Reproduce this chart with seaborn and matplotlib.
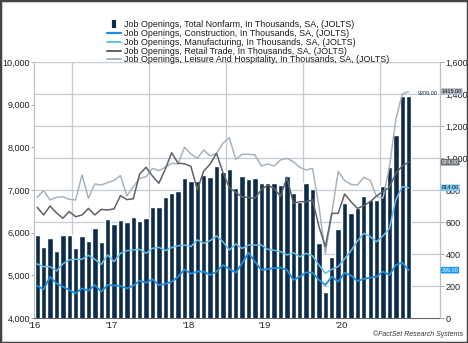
import matplotlib
matplotlib.use("Agg")
import matplotlib.pyplot as plt
import seaborn as sns
import numpy as np
from matplotlib.lines import Line2D
from matplotlib.patches import Rectangle
import matplotlib.transforms as mtransforms

sns.set_style("white")
plt.rcParams['font.family'] = ['Liberation Sans', 'DejaVu Sans']

# ---- data (monthly, thousands) ----
total = [5945, 5664, 5867, 5570, 5953, 5953, 5633, 5922, 5797, 6102, 5789, 6328, 6195, 6297,
         6258, 6375, 6281, 6352, 6594, 6594, 6828, 6922, 6985, 7273, 7211, 7211,
         7352, 7297, 7570, 7430, 7484, 7055, 7328, 7250, 7273, 7172, 7156, 7156, 7120,
         7328, 6922, 6719, 7156, 7031, 5750, 4609, 5422, 6094, 6703,
         6453, 6570, 6859, 6766, 6766, 7094, 7531, 8289, 9193, 9209]
construction = [202, 179, 258, 217, 196, 175, 154, 185, 171, 206, 165, 206, 203, 200,
                185, 202, 233, 221, 242, 206, 213, 227, 258, 304, 277, 290,
                290, 269, 290, 331, 306, 283, 342, 408, 352, 300, 306, 312, 315,
                300, 238, 258, 285, 283, 238, 206, 258, 227, 283,
                265, 231, 244, 252, 258, 290, 269, 331, 346, 299]
manufacturing = [338, 321, 321, 294, 338, 363, 367, 367, 392, 367, 335, 394, 352, 404,
                 421, 425, 429, 404, 435, 442, 421, 440, 452, 456, 446, 488,
                 467, 483, 513, 477, 425, 463, 435, 456, 456, 456, 429, 423, 415,
                 394, 408, 383, 404, 388, 331, 279, 304, 321, 370,
                 420, 481, 529, 508, 477, 513, 560, 738, 821, 814]
retail = [692, 644, 700, 658, 623, 665, 633, 644, 685, 644, 679, 675, 682, 765,
          740, 745, 900, 942, 888, 842, 930, 1033, 967, 964, 948, 802,
          918, 962, 1029, 910, 815, 785, 756, 754, 748, 802, 831, 810, 760,
          880, 717, 727, 727, 738, 571, 446, 654, 654, 775,
          727, 685, 702, 727, 763, 790, 817, 904, 950, 974]
leisure = [754, 796, 738, 754, 758, 742, 738, 894, 748, 838, 831, 846, 860, 890,
           763, 821, 873, 883, 935, 921, 942, 967, 963, 1067, 1025, 998,
           1050, 1013, 1029, 1092, 1127, 992, 1023, 1023, 1019, 950, 963, 950, 988,
           998, 977, 942, 925, 935, 696, 404, 654, 915, 860,
           835, 831, 879, 860, 758, 750, 944, 1240, 1400, 1415]
year_labels = ["'16", "'17", "'18", "'19", "'20"]
left_ticks = [4000, 5000, 6000, 7000, 8000, 9000, 10000]
right_ticks = [0, 200, 400, 600, 800, 1000, 1200, 1400, 1600]

labels = ["Job Openings, Total Nonfarm, In Thousands, SA, (JOLTS)",
          "Job Openings, Construction, In Thousands, SA, (JOLTS)",
          "Job Openings, Manufacturing, In Thousands, SA, (JOLTS)",
          "Job Openings, Retail Trade, In Thousands, SA, (JOLTS)",
          "Job Openings, Leisure And Hospitality, In Thousands, SA, (JOLTS)"]

NAVY = "#0E2C4A"
C_CONS = "#1E8CE0"
C_MANU = "#66BDF0"
C_RET = "#5C6268"
C_LEI = "#A8B3BD"
GRID = "#C6CCD2"

n = len(total)
idx = np.arange(n)

W, H = 468, 343
fig = plt.figure(figsize=(W / 100, H / 100), dpi=100)
ax = fig.add_axes([34 / W, 1 - 318 / H, (440 - 34) / W, (318 - 62) / H])

sns.barplot(x=idx, y=total, ax=ax, color=NAVY, width=0.84, saturation=1, zorder=2)
ax.set_xlim(-0.5, 62.9)
ax.set_ylim(4000, 10000)

# gridlines aligned to right axis
for v in right_ticks[1:]:
    ax.axhline(4000 + v * 6000 / 1600, color=GRID, lw=0.9, zorder=0)
for xv in [5.5, 17.5, 29.5, 41.5, 53.5]:
    ax.axvline(xv, color=GRID, lw=1.0, zorder=0)

ax.set_yticks(left_ticks)
ax.set_yticklabels([f"{v:,}" for v in left_ticks])
ax.set_xticks([-0.4, 11.6, 23.6, 35.6, 47.6])
ax.set_xticklabels(year_labels)
ax.tick_params(axis='y', labelsize=6.5, colors="#222222", length=2, width=0.6, pad=1, color="#999999")
ax.tick_params(axis='x', labelsize=6.8, colors="#222222", length=0, pad=2)
ax.set_xlabel("")
ax.set_ylabel("")
ax.spines["top"].set_color(GRID)
ax.spines["left"].set_color("#B8BEC4")
ax.spines["right"].set_color("#B8BEC4")
ax.spines["bottom"].set_color("#666666")

ax2 = ax.twinx()
for vals, col, lw in [(leisure, C_LEI, 1.1), (retail, C_RET, 1.1),
                      (manufacturing, C_MANU, 1.1), (construction, C_CONS, 1.3)]:
    sns.lineplot(x=idx, y=vals, ax=ax2, color=col, lw=lw)
ax2.set_ylim(0, 1600)
ax2.set_yticks(right_ticks)
ax2.set_yticklabels([f"{v:,}" for v in right_ticks])
ax2.tick_params(axis='y', labelsize=6.5, colors="#222222", length=3, width=0.6, pad=1, color="#999999")
ax2.set_ylabel("")
for s in ["left", "top", "bottom"]:
    ax2.spines[s].set_visible(False)
ax2.spines["right"].set_color("#B8BEC4")

# end-value labels
tr2 = mtransforms.blended_transform_factory(ax2.transAxes, ax2.transData)
for val, fc, tc in [(leisure[-1], "#AEB8C2", "#1a1a1a"), (retail[-1], "#6A7076", "white"),
                    (manufacturing[-1], "#7CC8F2", "#1a1a1a"), (construction[-1], "#2196F0", "white")]:
    ax2.text(1.004, val, f"{val:.2f}", transform=tr2, fontsize=4, color=tc, va="center", ha="left",
             bbox=dict(boxstyle="round,pad=0.15", fc=fc, ec="none"), zorder=10, clip_on=False)
tr1 = mtransforms.blended_transform_factory(ax.transAxes, ax.transData)
ax.text(0.993, total[-1] + 60, f"{total[-1]:.2f}", transform=tr1, fontsize=4, color=NAVY,
        ha="right", va="center", zorder=10)

# legend
handles = [Line2D([], [], color=NAVY, marker="|", markersize=6, markeredgewidth=3, linestyle="none"),
           Line2D([], [], color=C_CONS, lw=1.6),
           Line2D([], [], color=C_MANU, lw=1.4),
           Line2D([], [], color=C_RET, lw=1.4),
           Line2D([], [], color=C_LEI, lw=1.4)]
fig.legend(handles, labels, loc="upper left", bbox_to_anchor=(103 / W, 1 - 16 / H), frameon=False,
           fontsize=6.4, handlelength=1.5, handletextpad=0.4, labelspacing=-0.03, borderpad=0,
           labelcolor="#1a1a1a")

fig.text(1 - 5 / W, 5 / H, "©FactSet Research Systems", ha="right", va="bottom", fontsize=5,
         style="italic", color="#333333")

fig.patches.append(Rectangle((0, 0), 1, 1, transform=fig.transFigure, fill=False,
                             ec="#444444", lw=2.5))

fig.savefig("out.png", dpi=100)
